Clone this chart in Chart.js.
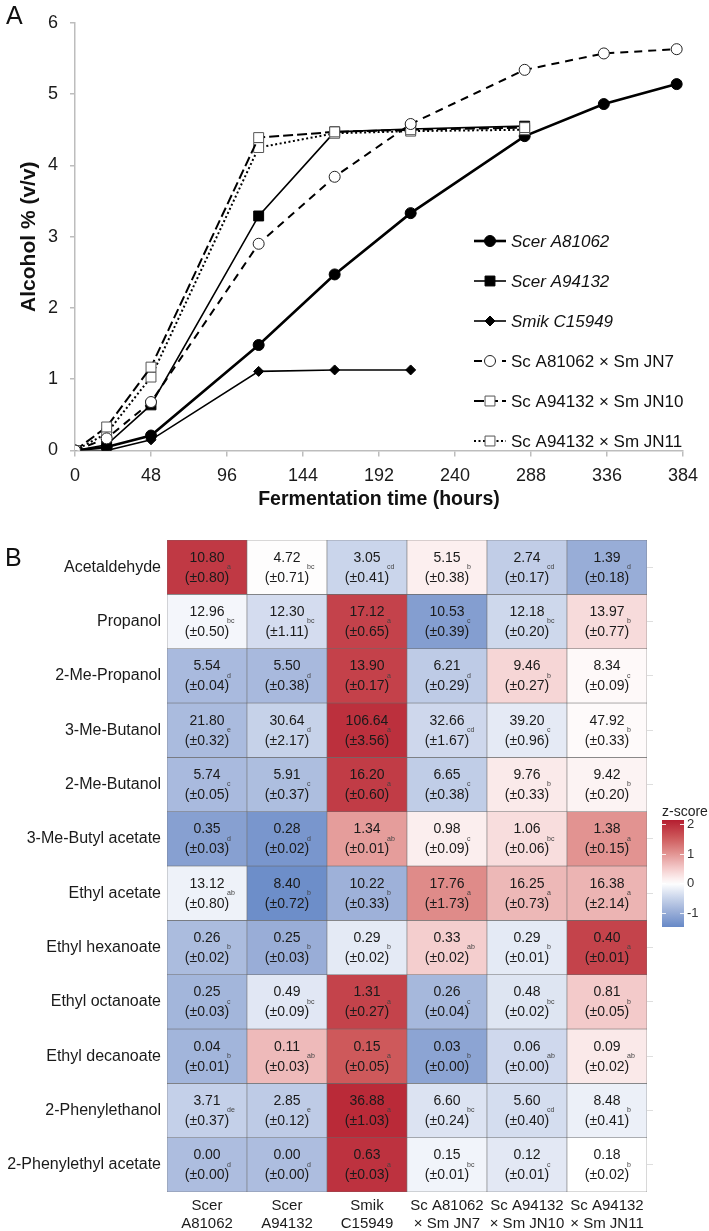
<!DOCTYPE html>
<html>
<head>
<meta charset="utf-8">
<script src="https://cdn.jsdelivr.net/npm/chart.js@4.4.1/dist/chart.umd.min.js"></script>
<style>
  html, body { margin: 0; padding: 0; background: #fff; }
  #wrap { position: relative; width: 709px; height: 1231px; overflow: hidden; }
  #chartA { position: absolute; left: 0; top: 0; }
  #chartB { position: absolute; left: 0; top: 515px; }
  .panel { position: absolute; font-family: "Liberation Sans", Arial, sans-serif; font-size: 25px; line-height: 1; color: #111; }
</style>
</head>
<body>
<div id="wrap">
  <canvas id="chartA" width="709" height="515"></canvas>
  <canvas id="chartB" width="709" height="716"></canvas>
  <div class="panel" style="left:6px;top:3px;">A</div>
  <div class="panel" style="left:5px;top:545px;">B</div>
</div>
<script>
// ---------- PANEL A DATA ----------
const hours = [0, 20, 48, 116, 164, 212, 284, 334, 380];
const scerA81062 = [0, 0.05, 0.21, 1.48, 2.47, 3.33, 4.41, 4.86, 5.14];
const scerA94132 = [0, 0.08, 0.64, 3.29, 4.47, 4.51, 4.55, null, null];
const smikC15949 = [0, 0.0, 0.15, 1.11, 1.13, 1.13, null, null, null];
const hybridJN7 = [0, 0.17, 0.68, 2.90, 3.84, 4.58, 5.34, 5.57, 5.63];
const hybridJN10 = [0, 0.33, 1.17, 4.39, 4.47, 4.50, 4.53, null, null];
const hybridJN11 = [0, 0.24, 1.03, 4.25, 4.45, 4.48, 4.50, null, null];
const xTicks = [0, 48, 96, 144, 192, 240, 288, 336, 384];

// ---------- PANEL B DATA ----------
const compounds = [
  "Acetaldehyde", "Propanol", "2-Me-Propanol", "3-Me-Butanol", "2-Me-Butanol",
  "3-Me-Butyl acetate", "Ethyl acetate", "Ethyl hexanoate", "Ethyl octanoate",
  "Ethyl decanoate", "2-Phenylethanol", "2-Phenylethyl acetate"
];
const strains = [
  ["Scer", "A81062"], ["Scer", "A94132"], ["Smik", "C15949"],
  ["Sc A81062", "× Sm JN7"], ["Sc A94132", "× Sm JN10"], ["Sc A94132", "× Sm JN11"]
];
const means = [
  [10.80, 4.72, 3.05, 5.15, 2.74, 1.39],
  [12.96, 12.30, 17.12, 10.53, 12.18, 13.97],
  [5.54, 5.50, 13.90, 6.21, 9.46, 8.34],
  [21.80, 30.64, 106.64, 32.66, 39.20, 47.92],
  [5.74, 5.91, 16.20, 6.65, 9.76, 9.42],
  [0.35, 0.28, 1.34, 0.98, 1.06, 1.38],
  [13.12, 8.40, 10.22, 17.76, 16.25, 16.38],
  [0.26, 0.25, 0.29, 0.33, 0.29, 0.40],
  [0.25, 0.49, 1.31, 0.26, 0.48, 0.81],
  [0.04, 0.11, 0.15, 0.03, 0.06, 0.09],
  [3.71, 2.85, 36.88, 6.60, 5.60, 8.48],
  [0.00, 0.00, 0.63, 0.15, 0.12, 0.18]
];
const sds = [
  [0.80, 0.71, 0.41, 0.38, 0.17, 0.18],
  [0.50, 1.11, 0.65, 0.39, 0.20, 0.77],
  [0.04, 0.38, 0.17, 0.29, 0.27, 0.09],
  [0.32, 2.17, 3.56, 1.67, 0.96, 0.33],
  [0.05, 0.37, 0.60, 0.38, 0.33, 0.20],
  [0.03, 0.02, 0.01, 0.09, 0.06, 0.15],
  [0.80, 0.72, 0.33, 1.73, 0.73, 2.14],
  [0.02, 0.03, 0.02, 0.02, 0.01, 0.01],
  [0.03, 0.09, 0.27, 0.04, 0.02, 0.05],
  [0.01, 0.03, 0.05, 0.00, 0.00, 0.02],
  [0.37, 0.12, 1.03, 0.24, 0.40, 0.41],
  [0.00, 0.00, 0.03, 0.01, 0.01, 0.02]
];
const letters = [
  ["a", "bc", "cd", "b", "cd", "d"],
  ["bc", "bc", "a", "c", "bc", "b"],
  ["d", "d", "a", "d", "b", "c"],
  ["e", "d", "a", "cd", "c", "b"],
  ["c", "c", "a", "c", "b", "b"],
  ["d", "d", "ab", "c", "bc", "a"],
  ["ab", "b", "b", "a", "a", "a"],
  ["b", "b", "b", "ab", "b", "a"],
  ["c", "bc", "a", "c", "bc", "b"],
  ["b", "ab", "a", "b", "ab", "ab"],
  ["de", "e", "a", "bc", "cd", "b"],
  ["d", "d", "a", "bc", "c", "b"]
];
const zTicks = [2, 1, 0, -1];

// ---------- HELPERS ----------
const FONT = '"Liberation Sans", Arial, sans-serif';
Chart.defaults.font.family = FONT;
Chart.defaults.color = "#1a1a1a";

function rowZ(row) {
  const m = row.reduce((a, b) => a + b, 0) / row.length;
  const sd = Math.sqrt(row.reduce((a, b) => a + (b - m) ** 2, 0) / (row.length - 1));
  return row.map(v => (v - m) / sd);
}

const colorStops = [
  [-1.5, [100, 135, 198]],
  [-1.0, [150, 171, 214]],
  [-0.5, [200, 211, 234]],
  [0, [255, 255, 255]],
  [0.5, [244, 204, 204]],
  [1.0, [226, 148, 146]],
  [1.5, [207, 92, 94]],
  [2.2, [178, 24, 43]]
];

function zColor(z) {
  if (z <= colorStops[0][0]) return "rgb(" + colorStops[0][1].join(",") + ")";
  for (let i = 1; i < colorStops.length; i++) {
    const [z1, c1] = colorStops[i];
    const [z0, c0] = colorStops[i - 1];
    if (z <= z1) {
      const t = (z - z0) / (z1 - z0);
      const c = c0.map((v, k) => Math.round(v + (c1[k] - v) * t));
      return "rgb(" + c.join(",") + ")";
    }
  }
  return "rgb(" + colorStops[colorStops.length - 1][1].join(",") + ")";
}

const toPoints = arr =>
  hours.map((h, i) => ({ x: h, y: arr[i] })).filter(p => p.y !== null);

// ---------- PANEL A ----------
const lineSeries = [
  { label: "Scer A81062", data: scerA81062, italic: true, width: 2.6, dash: [], style: "circle", r: 5.5, fill: "#000", stroke: "#000", order: 2 },
  { label: "Scer A94132", data: scerA94132, italic: true, width: 1.6, dash: [], style: "rect", r: 7, fill: "#000", stroke: "#000", order: 2 },
  { label: "Smik C15949", data: smikC15949, italic: true, width: 1.6, dash: [], style: "rectRot", r: 5, fill: "#000", stroke: "#000", order: 2 },
  { label: "Sc A81062 × Sm JN7", data: hybridJN7, italic: false, width: 2, dash: [8, 6], style: "circle", r: 5.5, fill: "#fff", stroke: "#222", order: 1 },
  { label: "Sc A94132 × Sm JN10", data: hybridJN10, italic: false, width: 2, dash: [10, 4], style: "rect", r: 7, fill: "#fff", stroke: "#555", order: 1 },
  { label: "Sc A94132 × Sm JN11", data: hybridJN11, italic: false, width: 2, dash: [2, 2.5], style: "rect", r: 7, fill: "#fff", stroke: "#555", order: 1 }
];

function drawMarker(ctx, s, x, y) {
  ctx.save();
  ctx.setLineDash([]);
  ctx.fillStyle = s.fill;
  ctx.strokeStyle = s.stroke;
  ctx.lineWidth = 1;
  ctx.beginPath();
  if (s.style === "circle") {
    ctx.arc(x, y, s.r, 0, Math.PI * 2);
  } else if (s.style === "rect") {
    const h = s.r * Math.SQRT1_2;
    ctx.rect(x - h, y - h, 2 * h, 2 * h);
  } else {
    ctx.moveTo(x, y - s.r); ctx.lineTo(x + s.r, y);
    ctx.lineTo(x, y + s.r); ctx.lineTo(x - s.r, y);
    ctx.closePath();
  }
  ctx.fill();
  ctx.stroke();
  ctx.restore();
}

const sideLegend = {
  id: "sideLegend",
  afterDraw(chart) {
    const ctx = chart.ctx;
    lineSeries.forEach((s, i) => {
      const y = 241 + i * 40;
      ctx.save();
      ctx.strokeStyle = "#000";
      ctx.lineWidth = s.width;
      ctx.setLineDash(s.dash);
      ctx.beginPath();
      ctx.moveTo(474, y);
      ctx.lineTo(506, y);
      ctx.stroke();
      ctx.restore();
      drawMarker(ctx, s, 490, y);
      ctx.save();
      ctx.font = (s.italic ? "italic " : "") + "17px " + FONT;
      ctx.fillStyle = "#111";
      ctx.textAlign = "left";
      ctx.textBaseline = "middle";
      ctx.fillText(s.label, 511, y + 1);
      ctx.restore();
    });
  }
};

new Chart(document.getElementById("chartA"), {
  type: "scatter",
  data: {
    datasets: lineSeries.map(s => ({
      label: s.label,
      data: toPoints(s.data),
      showLine: true,
      borderColor: "#000",
      borderWidth: s.width,
      borderDash: s.dash,
      pointStyle: s.style,
      pointRadius: s.r,
      pointBackgroundColor: s.fill,
      pointBorderColor: s.stroke,
      pointBorderWidth: 1,
      order: s.order
    }))
  },
  options: {
    responsive: false,
    animation: false,
    layout: { padding: { left: 0, right: 26, top: 21.5, bottom: 0 } },
    plugins: { legend: { display: false }, tooltip: { enabled: false } },
    scales: {
      x: {
        type: "linear",
        min: 0,
        max: 384,
        afterBuildTicks: axis => { axis.ticks = xTicks.map(v => ({ value: v })); },
        ticks: { font: { size: 18 }, padding: 9, color: "#1a1a1a" },
        grid: { drawOnChartArea: false, drawTicks: true, tickLength: 6, color: "#bdbdbd", lineWidth: 1.5 },
        border: { color: "#bdbdbd", width: 1.5 },
        title: { display: true, text: "Fermentation time (hours)", font: { size: 19.5, weight: "bold" }, color: "#111", padding: { top: 0, bottom: 3.5 } },
        afterFit: axis => { axis.height = 64.5; }
      },
      y: {
        min: 0,
        max: 6,
        ticks: { stepSize: 1, font: { size: 18 }, padding: 12, color: "#1a1a1a" },
        grid: { drawOnChartArea: false, drawTicks: true, tickLength: 5, color: "#bdbdbd", lineWidth: 1.5 },
        border: { color: "#bdbdbd", width: 1.5 },
        title: { display: true, text: "Alcohol % (v/v)", font: { size: 21, weight: "bold" }, color: "#111", padding: { top: 16.5, bottom: 0 } },
        afterFit: axis => { axis.width = 75; }
      }
    }
  },
  plugins: [sideLegend]
});

// ---------- PANEL B ----------
const zRows = means.map(rowZ);

const cellText = {
  id: "cellText",
  afterDatasetsDraw(chart) {
    const ctx = chart.ctx;
    compounds.forEach((c, r) => {
      const meta = chart.getDatasetMeta(r);
      meta.data.forEach((bar, s) => {
        const cx = bar.x;
        const cy = (bar.y + bar.base) / 2;
        ctx.save();
        ctx.fillStyle = "#1a1a1a";
        ctx.textAlign = "center";
        ctx.textBaseline = "middle";
        ctx.font = "14px " + FONT;
        ctx.fillText(means[r][s].toFixed(2), cx, cy - 9.5);
        ctx.fillText("(±" + sds[r][s].toFixed(2) + ")", cx, cy + 10.5);
        ctx.font = "7px " + FONT;
        ctx.fillStyle = "#444";
        ctx.textAlign = "left";
        ctx.fillText(letters[r][s], cx + 20, cy);
        ctx.restore();
      });
    });
  }
};

const colorBar = {
  id: "colorBar",
  afterDraw(chart) {
    const ctx = chart.ctx;
    const x0 = 662, w = 22, top = 305, bottom = 412;
    const zAt = y => 2 - (y - 309) / 29.7;
    const yAt = z => 309 + (2 - z) * 29.7;
    const grad = ctx.createLinearGradient(0, top, 0, bottom);
    for (let k = 0; k <= 20; k++) {
      const y = top + (bottom - top) * k / 20;
      grad.addColorStop(k / 20, zColor(zAt(y)));
    }
    ctx.save();
    ctx.fillStyle = grad;
    ctx.fillRect(x0, top, w, bottom - top);
    ctx.strokeStyle = "rgba(255,255,255,0.85)";
    ctx.lineWidth = 1;
    ctx.font = "13px " + FONT;
    ctx.fillStyle = "#333";
    ctx.textAlign = "left";
    ctx.textBaseline = "middle";
    zTicks.forEach(z => {
      const y = Math.round(yAt(z)) + 0.5;
      ctx.beginPath();
      ctx.moveTo(x0, y); ctx.lineTo(x0 + 4, y);
      ctx.moveTo(x0 + w - 4, y); ctx.lineTo(x0 + w, y);
      ctx.stroke();
      ctx.fillText(String(z), 687, y);
    });
    ctx.font = "14px " + FONT;
    ctx.fillStyle = "#222";
    ctx.fillText("z-score", 662, 297);
    ctx.restore();
  }
};

const rowTicks = axis => { axis.ticks = compounds.map((c, i) => ({ value: i + 0.5 })); };

new Chart(document.getElementById("chartB"), {
  type: "bar",
  data: {
    labels: strains,
    datasets: compounds.map((name, r) => ({
      label: name,
      data: strains.map(() => 1),
      backgroundColor: zRows[r].map(zColor),
      borderColor: "#6a6a6a",
      borderWidth: 0.6,
      borderSkipped: false,
      barPercentage: 1,
      categoryPercentage: 1,
      stack: "cells"
    }))
  },
  options: {
    responsive: false,
    animation: false,
    layout: { padding: { left: 0, right: 54, top: 25, bottom: 0 } },
    plugins: { legend: { display: false }, tooltip: { enabled: false } },
    scales: {
      x: {
        stacked: true,
        grid: { display: false, drawTicks: false },
        border: { display: false },
        ticks: { font: { size: 15, lineHeight: 1.2 }, color: "#1a1a1a", padding: 5, maxRotation: 0, autoSkip: false },
        afterFit: axis => { axis.height = 39; }
      },
      y: {
        stacked: true,
        reverse: true,
        min: 0,
        max: 12,
        afterBuildTicks: rowTicks,
        ticks: { callback: (v, i) => compounds[i], font: { size: 16 }, color: "#1a1a1a", padding: 6, autoSkip: false },
        grid: { display: false, drawTicks: false },
        border: { display: false },
        afterFit: axis => { axis.width = 167; }
      },
      y2: {
        position: "right",
        reverse: true,
        min: 0,
        max: 12,
        afterBuildTicks: rowTicks,
        ticks: { display: false },
        grid: { drawOnChartArea: false, drawTicks: true, tickLength: 6, color: "#dedede" },
        border: { display: false },
        afterFit: axis => { axis.width = 8; }
      }
    }
  },
  plugins: [cellText, colorBar]
});
</script>
</body>
</html>
